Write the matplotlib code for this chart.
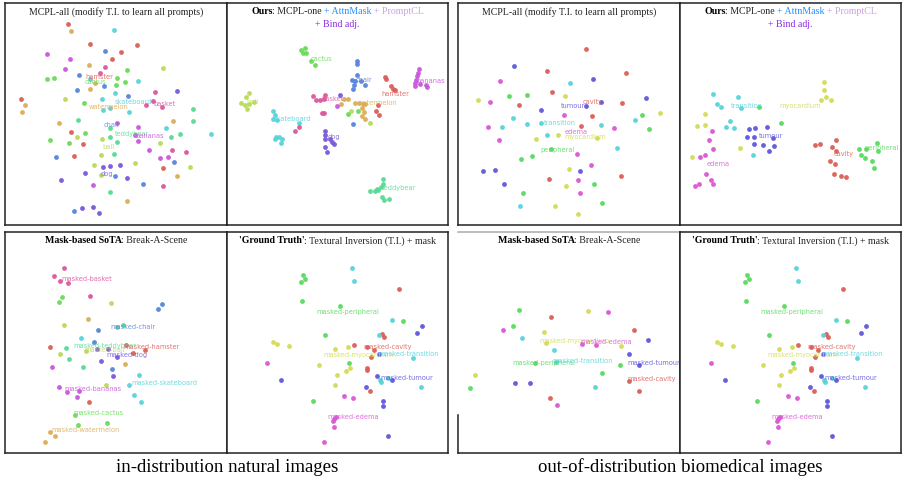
import matplotlib
matplotlib.use("Agg")
import matplotlib.pyplot as plt
import seaborn as sns

# class names (order matches the hls colour order)
natural_classes = ["hamster", "watermelon", "ball", "cactus", "teddybear",
                   "skateboard", "chair", "dog", "bananas", "basket"]
bio_classes = ["cavity", "myocardium", "peripheral", "transition", "tumour", "edema"]

natural_colors = sns.hls_palette(10)
bio_colors = sns.hls_palette(6)

# ------------------------------------------------------------
# embedding points, one list of (x, y) per class, per panel
# ------------------------------------------------------------
# panel 1: MCPL-all, natural
p1_pts = [
    [(204, 72), (269, 133), (410, 135), (364, 155), (335, 176), (62, 296), (213, 395), (249, 433), (222, 467), (490, 505)],
    [(212, 93), (268, 195), (286, 248), (270, 268), (75, 315), (66, 337), (176, 368), (518, 362), (531, 528), (380, 603)],
    [(489, 203), (194, 298), (231, 412), (307, 418), (479, 430), (302, 465), (283, 496), (404, 489), (570, 501), (304, 526)],
    [(381, 210), (140, 236), (163, 235), (350, 233), (374, 247), (349, 254), (253, 310), (255, 398), (150, 419), (207, 429)],
    [(579, 327), (235, 361), (579, 362), (329, 385), (540, 403), (514, 410), (331, 412), (352, 425), (343, 463), (331, 575)],
    [(341, 91), (269, 236), (413, 242), (305, 298), (345, 280), (310, 330), (330, 325), (388, 337), (498, 384), (633, 403)],
    [(315, 154), (238, 226), (312, 257), (232, 269), (385, 287), (169, 472), (522, 485), (344, 528), (428, 551), (223, 632)],
    [(530, 272), (309, 502), (331, 497), (359, 494), (254, 520), (382, 534), (182, 540), (247, 623), (280, 622), (297, 638)],
    [(142, 161), (209, 178), (196, 208), (352, 370), (415, 382), (405, 405), (413, 422), (448, 450), (479, 474), (505, 471), (279, 554)],
    [(314, 202), (299, 219), (464, 275), (459, 302), (437, 316), (486, 320), (517, 451), (558, 457), (489, 559)],
]
p1_labels = [(298, 230), (327, 320), (325, 440), (287, 245), (397, 401),
             (400, 306), (337, 374), (322, 521), (450, 408), (495, 311)]

# panel 2: ours, natural
p2_pts = [
    [(476, 230), (480, 236), (494, 258), (500, 266), (507, 271), (456, 316), (449, 333), (459, 346)],
    [(355, 296), (365, 296), (346, 311), (388, 309), (398, 309), (410, 312), (418, 313), (408, 325), (415, 335), (408, 348), (418, 358)],
    [(69, 279), (60, 292), (45, 310), (57, 316), (70, 313), (83, 307), (64, 327), (376, 334), (431, 368)],
    [(226, 150), (236, 144), (240, 158), (230, 160), (256, 184), (268, 196), (366, 343), (396, 334)],
    [(470, 538), (472, 553), (466, 562), (457, 570), (446, 572), (432, 572), (468, 590), (475, 600), (488, 598), (452, 567)],
    [(140, 332), (148, 345), (152, 360), (140, 356), (218, 370), (150, 412), (160, 412), (165, 428), (168, 418), (147, 418)],
    [(392, 184), (392, 191), (393, 225), (377, 239), (388, 242), (405, 243), (418, 254), (385, 256), (381, 268), (382, 373)],
    [(343, 284), (296, 393), (296, 404), (298, 416), (313, 418), (318, 425), (324, 432), (296, 440), (302, 455)],
    [(578, 208), (575, 218), (572, 228), (570, 240), (566, 250), (568, 258), (583, 253), (600, 256), (604, 262), (333, 317)],
    [(262, 288), (270, 299), (282, 299), (293, 297), (296, 286), (287, 338), (294, 338), (218, 382), (206, 394)],
]
p2_labels = [(507, 282), (455, 308), (80, 306), (285, 177), (520, 564),
             (200, 358), (415, 239), (323, 410), (615, 244), (320, 296)]

# panel 3: MCPL-all, biomedical
p3_pts = [
    [(390, 148), (272, 213), (511, 220), (289, 277), (189, 315), (498, 310), (408, 348), (374, 377), (280, 536), (494, 529)],
    [(67, 299), (328, 287), (613, 338), (240, 416), (306, 405), (424, 413), (340, 506), (331, 557), (297, 618), (365, 643)],
    [(159, 288), (213, 285), (559, 346), (579, 386), (284, 446), (228, 467), (195, 476), (415, 551), (201, 580), (438, 608)],
    [(343, 248), (172, 354), (137, 380), (213, 372), (254, 369), (274, 406), (434, 376), (538, 360), (483, 444), (193, 618)],
    [(175, 199), (412, 237), (570, 295), (255, 331), (391, 319), (436, 307), (82, 512), (116, 510), (143, 553), (373, 514)],
    [(131, 243), (101, 307), (323, 344), (95, 380), (475, 383), (129, 421), (363, 463), (406, 495), (366, 539), (373, 579)],
]
p3_labels = [(410, 306), (388, 410), (305, 451), (310, 368), (350, 319), (362, 396)]

# panel 4: ours, biomedical
p4_pts = [
    [(473, 419), (461, 441), (473, 454), (410, 434), (426, 432), (457, 484), (470, 493), (468, 522), (488, 527), (503, 531)],
    [(437, 247), (438, 271), (445, 292), (429, 300), (460, 300), (82, 343), (58, 377), (81, 374), (187, 443), (43, 471)],
    [(243, 321), (309, 369), (544, 446), (548, 466), (562, 475), (597, 430), (601, 452), (565, 448), (583, 483), (587, 504)],
    [(105, 283), (181, 291), (116, 312), (130, 321), (190, 325), (156, 364), (143, 381), (168, 385), (224, 465)],
    [(214, 388), (231, 384), (268, 380), (206, 411), (227, 412), (285, 414), (228, 432), (256, 435), (287, 439), (274, 453)],
    [(102, 394), (93, 421), (106, 448), (80, 465), (67, 472), (84, 521), (99, 540), (106, 552), (63, 551), (51, 559)],
]
p4_labels = [(497, 463), (368, 317), (610, 445), (206, 317), (278, 407), (121, 491)]

# panel 5: Break-A-Scene, natural
p5_pts = [
    [(151, 357), (377, 352), (435, 365), (399, 376), (268, 521)],
    [(264, 273), (375, 409), (151, 611), (164, 624), (134, 642)],
    [(332, 224), (191, 291), (179, 379), (258, 369), (318, 471)],
    [(187, 208), (176, 223), (226, 562), (234, 590), (322, 586)],
    [(369, 290), (350, 297), (198, 360), (208, 393), (250, 418)],
    [(244, 329), (416, 442), (386, 472), (402, 500), (424, 521)],
    [(485, 229), (473, 244), (293, 305), (283, 341), (337, 423)],
    [(323, 362), (352, 386), (303, 398), (338, 443), (291, 363)],
    [(156, 418), (177, 478), (202, 492), (237, 488), (232, 508)],
    [(191, 121), (161, 145), (181, 159), (203, 166), (269, 205)],
]
p5_labels = [(455, 358), (258, 606), (315, 366), (295, 556), (315, 355),
             (492, 466), (398, 298), (380, 381), (280, 482), (260, 154)]

# panel 6 / 8: T.I. + mask, biomedical (same embedding shown twice)
p6_pts = [
    [(520, 183), (467, 318), (473, 326), (384, 351), (424, 358), (445, 366), (436, 386), (423, 420), (422, 425), (432, 489)],
    [(141, 341), (153, 349), (190, 355), (328, 362), (367, 356), (278, 412), (372, 420), (359, 430), (334, 442), (328, 472)],
    [(232, 141), (237, 152), (225, 162), (228, 219), (341, 234), (531, 280), (296, 321), (369, 406), (262, 520)],
    [(378, 120), (384, 160), (498, 276), (458, 322), (560, 389), (486, 449), (463, 456), (466, 462), (585, 476)],
    [(588, 293), (572, 316), (460, 378), (453, 445), (498, 455), (419, 478), (470, 519), (470, 533), (486, 624), (166, 457)],
    [(122, 405), (355, 503), (380, 509), (324, 572), (320, 580), (329, 566), (323, 596), (293, 641)],
]
p6_labels = [(486, 356), (397, 380), (365, 251), (548, 378), (543, 450), (383, 567)]

# panel 7: Break-A-Scene, biomedical
p7_pts = [
    [(286, 266), (535, 307), (519, 458), (549, 489), (282, 509)],
    [(396, 250), (263, 311), (269, 344), (494, 353), (57, 440)],
    [(189, 246), (171, 293), (237, 405), (491, 411), (438, 436), (41, 480)],
    [(199, 329), (295, 367), (300, 403), (418, 477)],
    [(577, 335), (519, 378), (550, 410), (176, 465), (222, 465)],
    [(457, 253), (140, 307), (378, 347), (419, 352), (304, 530)],
]
p7_labels = [(588, 453), (355, 338), (262, 406), (380, 398), (593, 406), (450, 341)]

# ------------------------------------------------------------
# figure
# ------------------------------------------------------------
W, H = 903, 478
fig = plt.figure(figsize=(W / 100, H / 100), dpi=100)
SERIF = "Liberation Serif"
TITLE_FS = 7.1


def make_ax(x0, y0, x1, y1, xlim, ylim):
    ax = fig.add_axes([x0 / W, 1 - y1 / H, (x1 - x0) / W, (y1 - y0) / H])
    ax.set_xlim(*xlim)
    ax.set_ylim(*ylim)
    ax.set_xticks([])
    ax.set_yticks([])
    for sp in ax.spines.values():
        sp.set_linewidth(1.1)
        sp.set_color("#222222")
    return ax


def draw_panel(ax, pts, labels, names, colors, prefix=""):
    for i, cls in enumerate(pts):
        xs = [p[0] for p in cls]
        ys = [p[1] for p in cls]
        ax.scatter(xs, ys, s=12, color=colors[i], linewidths=0, alpha=0.95, zorder=2)
    for i, (lx, ly) in enumerate(labels):
        ax.text(lx, ly, prefix + names[i], color=colors[i], alpha=0.85,
                fontsize=4.8, ha="center", va="center", zorder=3)


def rich_line(ax, parts, y):
    # parts: (text, color, weight); laid out left to right, centred in the axes
    r = fig.canvas.get_renderer()
    texts = [ax.text(0, y, s, transform=ax.transAxes, color=c, fontweight=w,
                     family=SERIF, fontsize=TITLE_FS, ha="left", va="center")
             for s, c, w in parts]
    widths = []
    for t, (s, c, w) in zip(texts, parts):
        wd = t.get_window_extent(r).width
        if w == "bold":
            wd -= 0.8   # bold extent comes out a touch wide before the colon
        widths.append(wd)
    bb = ax.get_window_extent(r)
    x = (bb.width - sum(widths)) / 2
    for t, w in zip(texts, widths):
        t.set_x(x / bb.width)
        x += w


ours_line1 = [("Ours", "black", "bold"), (": MCPL-one ", "#222222", "normal"),
              ("+ AttnMask ", "#1E90FF", "normal"), ("+ PromptCL", "#C9A3E0", "normal")]
ours_line2 = [("+ Bind adj.", "#8A2BE2", "normal")]
mask_title = [("Mask-based SoTA", "black", "bold"), (": Break-A-Scene", "#222222", "normal")]
gt_title = [("'Ground Truth'", "black", "bold"),
            (": Textural Inversion (T.I.) + mask", "#222222", "normal")]
all_title = [("MCPL-all (modify T.I. to learn all prompts)", "#222222", "normal")]

# top row
ax1 = make_ax(5, 3, 227, 225, (15, 681), (675, 9))
draw_panel(ax1, p1_pts, p1_labels, natural_classes, natural_colors)
ax2 = make_ax(227, 3, 448, 225, (3, 666), (675, 9))
draw_panel(ax2, p2_pts, p2_labels, natural_classes, natural_colors)
ax3 = make_ax(458, 3, 680, 225, (6, 672), (675, 9))
draw_panel(ax3, p3_pts, p3_labels, bio_classes, bio_colors)
ax4 = make_ax(680, 3, 901, 225, (6, 669), (675, 9))
draw_panel(ax4, p4_pts, p4_labels, bio_classes, bio_colors)

# bottom row
ax5 = make_ax(5, 232, 227, 453, (15, 681), (675, 12))
draw_panel(ax5, p5_pts, p5_labels, natural_classes, natural_colors, "masked-")
ax6 = make_ax(227, 232, 448, 453, (3, 666), (675, 12))
draw_panel(ax6, p6_pts, p6_labels, bio_classes, bio_colors, "masked-")
ax7 = make_ax(458, 232, 680, 453, (6, 672), (675, 12))
draw_panel(ax7, p7_pts, p7_labels, bio_classes, bio_colors, "masked-")
ax8 = make_ax(680, 232, 901, 453, (30, 693), (675, 12))
draw_panel(ax8, p6_pts, p6_labels, bio_classes, bio_colors, "masked-")

# panel 7 has a broken left edge and a light top edge in the original
ax7.spines["left"].set_visible(False)
ax7.spines["top"].set_color("#aaaaaa")
ax7.plot([0, 0], [0, 0.17], transform=ax7.transAxes, color="#222222",
         lw=1.1, clip_on=False)

fig.canvas.draw()
for ax in (ax1, ax3):
    rich_line(ax, all_title, 1 - 9 / 222)
for ax in (ax2, ax4):
    rich_line(ax, ours_line1, 1 - 9 / 222)
    rich_line(ax, ours_line2, 1 - 22 / 222)
for ax in (ax5, ax7):
    rich_line(ax, mask_title, 1 - 9 / 221)
for ax in (ax6, ax8):
    rich_line(ax, gt_title, 1 - 9 / 221)

fig.text(227 / W, 1 - 467 / H, "in-distribution natural images", family=SERIF,
         fontsize=13.5, ha="center", va="center")
fig.text(680 / W, 1 - 467 / H, "out-of-distribution biomedical images", family=SERIF,
         fontsize=13.5, ha="center", va="center")

fig.savefig("out.png", dpi=100)
